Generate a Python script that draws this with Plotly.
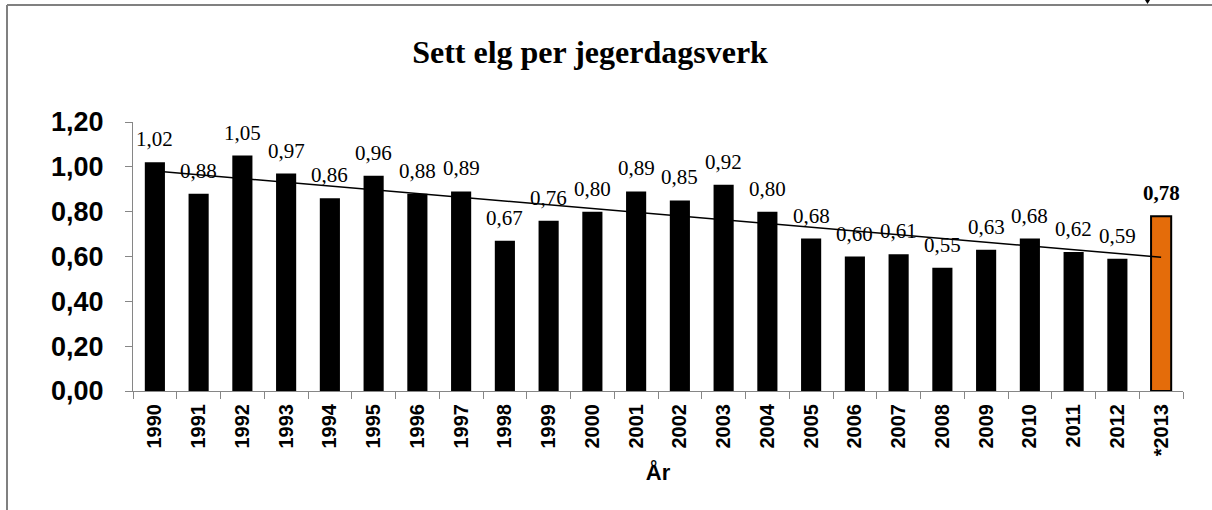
import numpy as np
import plotly.graph_objects as go

years = ["1990", "1991", "1992", "1993", "1994", "1995", "1996", "1997", "1998", "1999",
         "2000", "2001", "2002", "2003", "2004", "2005", "2006", "2007", "2008", "2009",
         "2010", "2011", "2012", "*2013"]
values = [1.02, 0.88, 1.05, 0.97, 0.86, 0.96, 0.88, 0.89, 0.67, 0.76,
          0.80, 0.89, 0.85, 0.92, 0.80, 0.68, 0.60, 0.61, 0.55, 0.63,
          0.68, 0.62, 0.59, 0.78]
title_text = "Sett elg per jegerdagsverk"
x_title = "År"

colors = ["#000000"] * (len(values) - 1) + ["#E46C0A"]
line_w = [0] * (len(values) - 1) + [2]

fig = go.Figure()
fig.add_trace(go.Bar(
    x=years, y=values, width=0.46,
    marker=dict(color=colors, line=dict(color="#000000", width=line_w)),
    hoverinfo="skip", showlegend=False,
))

# linear trend line (least squares over all points)
idx = np.arange(len(values))
slope, intercept = np.polyfit(idx, values, 1)
trend = slope * idx + intercept
fig.add_trace(go.Scatter(
    x=years, y=trend, mode="lines",
    line=dict(color="#000000", width=1.5),
    hoverinfo="skip", showlegend=False,
))

for i, v in enumerate(values):
    last = i == len(values) - 1
    txt = f"{v:.2f}".replace(".", ",")
    fig.add_annotation(
        x=i, y=v, yref="y", xref="x",
        text=(f"<b>{txt}</b>" if last else txt),
        showarrow=False, yanchor="bottom", yshift=9,
        font=dict(family="Liberation Serif", size=21, color="#000000"),
    )

L, R, T, B = 133, 29, 122, 119
W, H = 1212, 510
pw, ph = W - L - R, H - T - B

def px_x(p):
    return (p - L) / pw

def px_y(p):
    return (H - B - p) / ph

# outer frame (partly cut off at the right and bottom)
fig.add_shape(type="line", xref="paper", yref="paper",
              x0=px_x(7), x1=px_x(7), y0=px_y(5), y1=px_y(530),
              line=dict(color="#808080", width=2))
fig.add_shape(type="line", xref="paper", yref="paper",
              x0=px_x(7), x1=px_x(1230), y0=px_y(5), y1=px_y(5),
              line=dict(color="#808080", width=2))
# small black marker at the top edge
fig.add_shape(type="path", xref="paper", yref="paper",
              path=f"M {px_x(1145)} {px_y(0)} L {px_x(1150)} {px_y(0)} L {px_x(1147.5)} {px_y(4)} Z",
              fillcolor="#000000", line=dict(width=0))

fig.update_layout(
    width=W, height=H,
    margin=dict(l=L, r=R, t=T, b=B, pad=0),
    paper_bgcolor="#ffffff", plot_bgcolor="#ffffff",
    separators=", ",
    title=dict(text=f"<b>{title_text}</b>", x=590 / W, xanchor="center",
               y=1 - 52 / H, yanchor="middle",
               font=dict(family="Liberation Serif", size=32, color="#000000")),
    xaxis=dict(
        type="category", tickangle=-90, tickson="boundaries",
        ticks="outside", ticklen=7, tickcolor="#868686",
        showline=True, linecolor="#868686", linewidth=1,
        showgrid=False, zeroline=False, ticklabelstandoff=4,
        tickfont=dict(family="Liberation Sans", size=20, color="#000000", weight="bold"),
        title=dict(text=f"<b>{x_title}</b>", standoff=9,
                   font=dict(family="Liberation Sans", size=22, color="#000000")),
        range=[-0.5, len(years) - 0.5],
    ),
    yaxis=dict(
        range=[0, 1.2], dtick=0.2, tickformat=".2f",
        ticks="outside", ticklen=7, tickcolor="#868686",
        showline=True, linecolor="#868686", linewidth=1,
        showgrid=False, zeroline=False, ticklabelstandoff=16,
        tickfont=dict(family="Liberation Sans", size=27, color="#000000", weight="bold"),
    ),
)

fig.write_html("out.html", config={"displayModeBar": False},
               post_script="document.body.style.margin='0';")
